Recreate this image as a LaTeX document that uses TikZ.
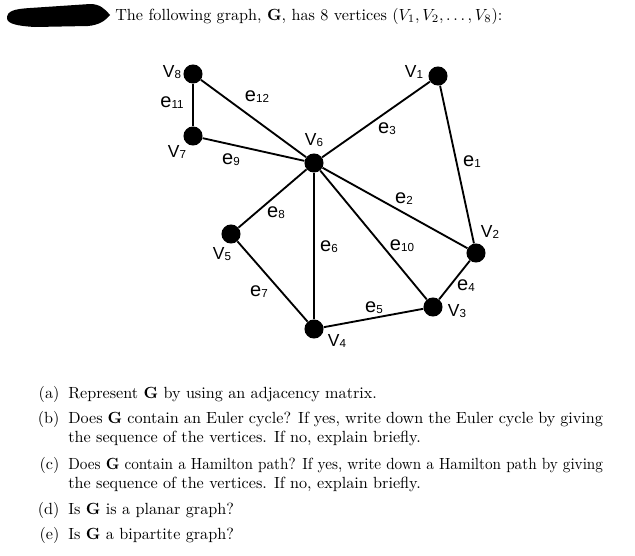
\documentclass[tikz,border=0pt]{standalone}
\usepackage{amsmath}
\usepackage{graphicx}
\usepackage{fontspec}
\newfontfamily\arialfont{Liberation Sans}
\usetikzlibrary{calc}
\newcommand{\lsub}[1]{\raisebox{-0.6pt}{\fontsize{7.2}{7.2}\selectfont #1}}
\tikzset{
  vertex/.style={circle,fill=black,inner sep=0pt,minimum size=11.8pt},
  vlab/.style={font=\arialfont\fontsize{10.8}{12}\selectfont,inner sep=0pt},
  elab/.style={font=\arialfont\fontsize{12.4}{14}\selectfont,inner sep=0pt},
  edge/.style={line width=1.15pt},
  qlab/.style={anchor=base east,inner sep=0pt},
  qtext/.style={anchor=base west,inner sep=0pt,text width=331pt,align=justify,
    font=\fontsize{10}{11.8}\selectfont}
}

\begin{document}
\begin{tikzpicture}[x=0.619pt,y=-0.619pt]
\useasboundingbox (0,0) rectangle (635,556);
\fill (7,18) .. controls (7,11) and (14,9) .. (30,8) -- (90,4)
  .. controls (100,4) and (105,9) .. (110,15)
  .. controls (105,21) and (99,25) .. (88,26) -- (35,27)
  .. controls (18,26) and (7,24) .. cycle;
\node[anchor=base west,inner sep=0pt] (title) at (115,20)
  {The following graph, \textbf{G}, has 8 vertices $(V_1, V_2, \ldots, V_8)$:};

\node[vertex] (v1) at (438,76) {};
\node[vertex] (v2) at (476,253) {};
\node[vertex] (v3) at (433,307) {};
\node[vertex] (v4) at (314,329) {};
\node[vertex] (v5) at (231,234) {};
\node[vertex] (v6) at (314,163) {};
\node[vertex] (v7) at (193,136) {};
\node[vertex] (v8) at (193,74) {};

\draw[edge] (v1) -- (v2);  \draw[edge] (v6) -- (v2);
\draw[edge] (v6) -- (v1);  \draw[edge] (v2) -- (v3);
\draw[edge] (v4) -- (v3);  \draw[edge] (v6) -- (v4);
\draw[edge] (v5) -- (v4);  \draw[edge] (v6) -- (v5);
\draw[edge] (v7) -- (v6);  \draw[edge] (v6) -- (v3);
\draw[edge] (v8) -- (v7);  \draw[edge] (v8) -- (v6);

\node[vlab] (l1) at (414,72) {V\lsub{1}};
\node[vlab] (l2) at (490,232) {V\lsub{2}};
\node[vlab] (l3) at (457,311) {V\lsub{3}};
\node[vlab] (l4) at (337,341) {V\lsub{4}};
\node[vlab] (l5) at (222,254) {V\lsub{5}};
\node[vlab] (l6) at (314,140) {V\lsub{6}};
\node[vlab] (l7) at (177,152) {V\lsub{7}};
\node[vlab] (l8) at (172,72) {V\lsub{8}};

\node[elab] (e1) at (472,162) {e\lsub{1}};
\node[elab] (e2) at (404,199) {e\lsub{2}};
\node[elab] (e3) at (387,129) {e\lsub{3}};
\node[elab] (e4) at (466,286) {e\lsub{4}};
\node[elab] (e5) at (374,308) {e\lsub{5}};
\node[elab] (e6) at (329,247) {e\lsub{6}};
\node[elab] (e7) at (259,292) {e\lsub{7}};
\node[elab] (e8) at (276,213) {e\lsub{8}};
\node[elab] (e9) at (231,160) {e\lsub{9}};
\node[elab] (e10) at (402,246) {e\lsub{10}};
\node[elab] (e11) at (172,103) {e\lsub{11}};
\node[elab] (e12) at (257,97) {e\lsub{12}};

\node[qlab] (qa) at (59.7,398) {(a)};
\node[qtext] (ta) at (68,398) {Represent \textbf{G} by using an adjacency matrix.};
\node[qlab] (qb) at (59.7,423) {(b)};
\node[qtext] (tb) at (68,423) {Does \textbf{G} contain an Euler cycle? If yes, write down the Euler cycle by giving the sequence of the vertices. If no, explain briefly.};
\node[qlab] (qc) at (59.7,469) {(c)};
\node[qtext] (tc) at (68,469) {\resizebox{\linewidth}{\height}{Does \textbf{G} contain a Hamilton path? If yes, write down a Hamilton path by giving}\\
  the sequence of the vertices. If no, explain briefly.};
\node[qlab] (qd) at (59.7,514) {(d)};
\node[qtext] (td) at (68,514) {Is \textbf{G} is a planar graph?};
\node[qlab] (qe) at (59.7,539) {(e)};
\node[qtext] (te) at (68,539) {Is \textbf{G} a bipartite graph?};
\end{tikzpicture}
\end{document}
